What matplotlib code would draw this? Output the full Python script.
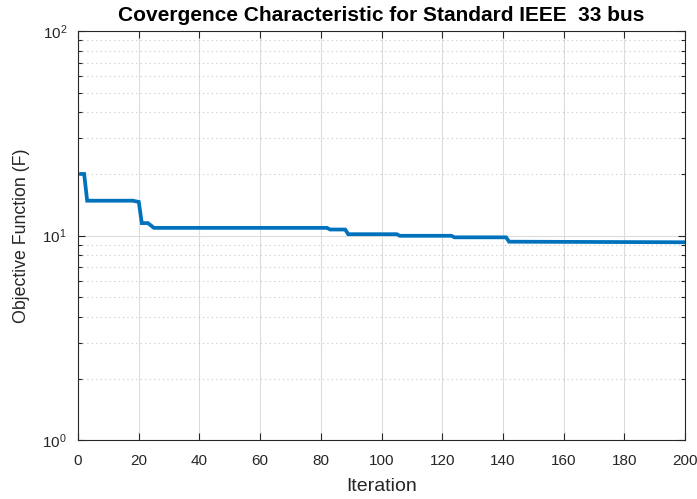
import matplotlib
matplotlib.use("Agg")
import matplotlib.pyplot as plt
from matplotlib.ticker import LogLocator, NullFormatter, MultipleLocator

# Convergence curve (iteration, objective value)
iterations = [1, 2, 3, 18, 20, 21, 23, 25, 82, 83, 88, 89, 105, 106, 123, 124, 141, 142, 200]
objective = [20.0, 20.0, 14.8, 14.8, 14.6, 11.5, 11.5, 10.9, 10.9, 10.7, 10.7, 10.15, 10.15, 9.97,
             9.97, 9.8, 9.8, 9.33, 9.27]

plt.rcParams["font.family"] = ["Liberation Sans", "DejaVu Sans"]

fig = plt.figure(figsize=(6.97, 4.99), dpi=100)
ax = fig.add_axes([0.112, 0.118, 0.871, 0.820])

ax.plot(iterations, objective, color="#0072BD", linewidth=2.7, solid_joinstyle="miter")

ax.set_yscale("log")
ax.set_xlim(0, 200)
ax.set_ylim(1, 100)
ax.xaxis.set_major_locator(MultipleLocator(20))
ax.yaxis.set_major_locator(LogLocator(base=10))
ax.yaxis.set_minor_locator(LogLocator(base=10, subs=range(2, 10)))
ax.yaxis.set_minor_formatter(NullFormatter())

ax.grid(which="major", color="#dcdcdc", linestyle="-", linewidth=0.8)
ax.grid(which="minor", axis="y", color="#c8c8c8", linestyle=(0, (1, 3)), linewidth=0.8)
ax.set_axisbelow(True)

ax.tick_params(which="both", direction="in", top=True, right=True, colors="#262626",
               labelsize=11, labelcolor="#262626")
ax.tick_params(which="major", length=5, width=0.8)
ax.tick_params(which="minor", length=3, width=0.8)
ax.tick_params(axis="x", pad=10)
ax.tick_params(axis="y", pad=8)
for s in ax.spines.values():
    s.set_color("#262626")
    s.set_linewidth(0.8)

ax.set_title("Covergence Characteristic for Standard IEEE  33 bus", fontsize=15,
             fontweight="bold", pad=7)
ax.set_xlabel("Iteration", fontsize=14, color="#262626", labelpad=7)
ax.set_ylabel("Objective Function (F)", fontsize=12.8, color="#262626", labelpad=9)

fig.savefig("out.png", dpi=100)
